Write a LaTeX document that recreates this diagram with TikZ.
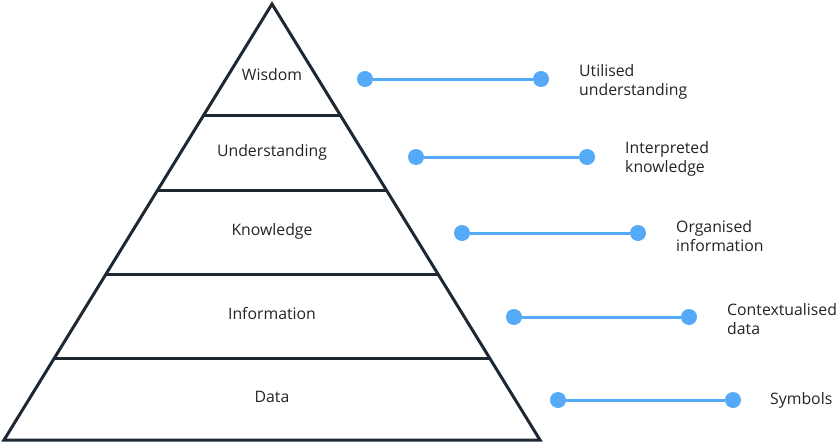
\documentclass[tikz,border=0pt]{standalone}
\usepackage{fontspec}
\setmainfont{Open Sans}
\usetikzlibrary{positioning, calc}
\definecolor{pyrLine}{RGB}{30,40,50}
\definecolor{pyrText}{RGB}{35,35,35}
\definecolor{linkBlue}{RGB}{85,170,248}

\begin{document}
\begin{tikzpicture}[
    x=1pt, y=-1pt,
    tier/.style={font=\fontsize{15.8}{18}\selectfont, text=pyrText, inner sep=0pt},
    dot/.style={circle, fill=linkBlue, minimum size=16pt, inner sep=0pt},
    link/.style={draw=linkBlue, line width=3pt},
    meaning/.style={font=\fontsize{15.8}{19}\selectfont, text=pyrText, align=left, anchor=west, inner sep=0pt},
    frame/.style={draw=pyrLine, line width=3pt, line join=miter}
]
    \useasboundingbox (0,0) rectangle (840,444);

    % pyramid outline and tier dividers
    \coordinate (apex) at (272,4);
    \coordinate (baseL) at (4,440);
    \coordinate (baseR) at (540,440);
    \draw[frame] (apex) -- (baseL) -- (baseR) -- cycle;
    \foreach \y in {116,191,274,358} {
        \draw[frame] ($(apex)!{(\y-4)/436}!(baseL)$) -- ($(apex)!{(\y-4)/436}!(baseR)$);
    }

    % tier names
    \node[tier] (wisdom) at (272,75) {Wisdom};
    \node[tier] (understanding) at (272,152) {Understanding};
    \node[tier] (knowledge) at (272,231) {Knowledge};
    \node[tier] (information) at (272,314) {Information};
    \node[tier] (data) at (272,397) {Data};

    % connectors and meanings
    \node[dot] (wL) at (365,79) {};
    \node[dot] (wR) at (541,79) {};
    \draw[link] (wL) -- (wR);
    \node[meaning] (wText) at (579,82) {Utilised\\understanding};

    \node[dot] (uL) at (416,157) {};
    \node[dot] (uR) at (587,157) {};
    \draw[link] (uL) -- (uR);
    \node[meaning] (uText) at (625,159) {Interpreted\\knowledge};

    \node[dot] (kL) at (462,233) {};
    \node[dot] (kR) at (638,233) {};
    \draw[link] (kL) -- (kR);
    \node[meaning] (kText) at (676,236) {Organised\\information};

    \node[dot] (iL) at (514,317) {};
    \node[dot] (iR) at (689,317) {};
    \draw[link] (iL) -- (iR);
    \node[meaning] (iText) at (727,319) {Contextualised\\data};

    \node[dot] (dL) at (558,400) {};
    \node[dot] (dR) at (733,400) {};
    \draw[link] (dL) -- (dR);
    \node[meaning] (dText) at (770,400) {Symbols};
\end{tikzpicture}
\end{document}
